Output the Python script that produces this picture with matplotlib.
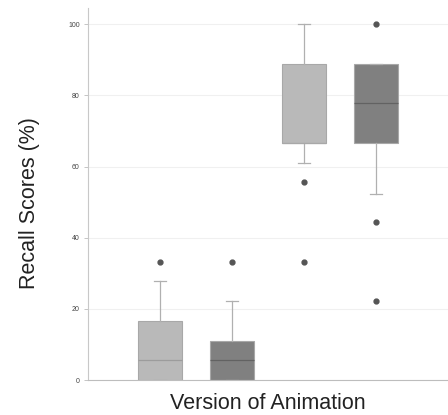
import matplotlib
matplotlib.use("Agg")
import matplotlib.pyplot as plt

# Data (Recall Scores, %)
groups = ["A1", "A2", "B1", "B2"]
q1 = [0.0, 0.0, 66.7, 66.7]
med = [5.6, 5.6, 66.7, 77.8]
q3 = [16.7, 11.1, 88.9, 88.9]
wlo = [0.0, 0.0, 61.1, 52.2]
whi = [27.8, 22.2, 100.0, 88.9]
fliers = [[33.3], [33.3], [55.6, 33.3], [100.0, 44.4, 22.2]]
colors = ["#b9b9b9", "#808080", "#b9b9b9", "#808080"]
median_colors = ["#9c9c9c", "#626262", "#a8a8a8", "#626262"]
yticks = [0, 20, 40, 60, 80, 100]

plt.rcParams['font.family'] = ['Liberation Sans', 'DejaVu Sans']
fig = plt.figure(figsize=(4.48, 4.15), dpi=100)
ax = fig.add_axes([88/448, 35/415, 1 - 88/448, (380-8)/415])

stats = []
for i in range(len(groups)):
    stats.append(dict(label=groups[i], q1=q1[i], med=med[i], q3=q3[i],
                      whislo=wlo[i], whishi=whi[i], fliers=fliers[i]))

bp = ax.bxp(stats, positions=range(len(groups)), widths=0.61, patch_artist=True,
            showfliers=True,
            boxprops=dict(edgecolor="#a8a8a8", linewidth=0.8),
            medianprops=dict(color="#6e6e6e", linewidth=0.9),
            whiskerprops=dict(color="#b0b0b0", linewidth=0.9),
            capprops=dict(color="#b0b0b0", linewidth=0.9),
            capwidths=0.16,
            flierprops=dict(marker='o', markerfacecolor="#555555", markeredgecolor="#555555", markersize=3.5))
for p, c in zip(bp['boxes'], colors):
    p.set_facecolor(c)
for m, c in zip(bp['medians'], median_colors):
    m.set_color(c)

ax.set_xlim(-1, 4)
ax.set_ylim(0, 104.6)
ax.set_yticks(yticks)
ax.set_yticklabels([str(t) for t in yticks], fontsize=5, color="#444444")
ax.tick_params(axis='y', length=3, width=0.6, color="#bbbbbb", pad=3)
ax.set_xticks([])
ax.grid(axis='y', color="#f0f0f0", linewidth=0.8)
ax.set_axisbelow(True)
for s in ["top", "right"]:
    ax.spines[s].set_visible(False)
ax.spines["left"].set_color("#c8c8c8")
ax.spines["bottom"].set_color("#bdbdbd")
ax.spines["left"].set_linewidth(0.8)
ax.spines["bottom"].set_linewidth(0.8)

ax.set_ylabel("Recall Scores (%)", fontsize=15.5, color="#222222")
ax.yaxis.set_label_coords(-0.133, 0.476)
ax.set_xlabel("Version of Animation", fontsize=15.5, color="#222222", labelpad=9)

fig.savefig("out.png", dpi=100)
